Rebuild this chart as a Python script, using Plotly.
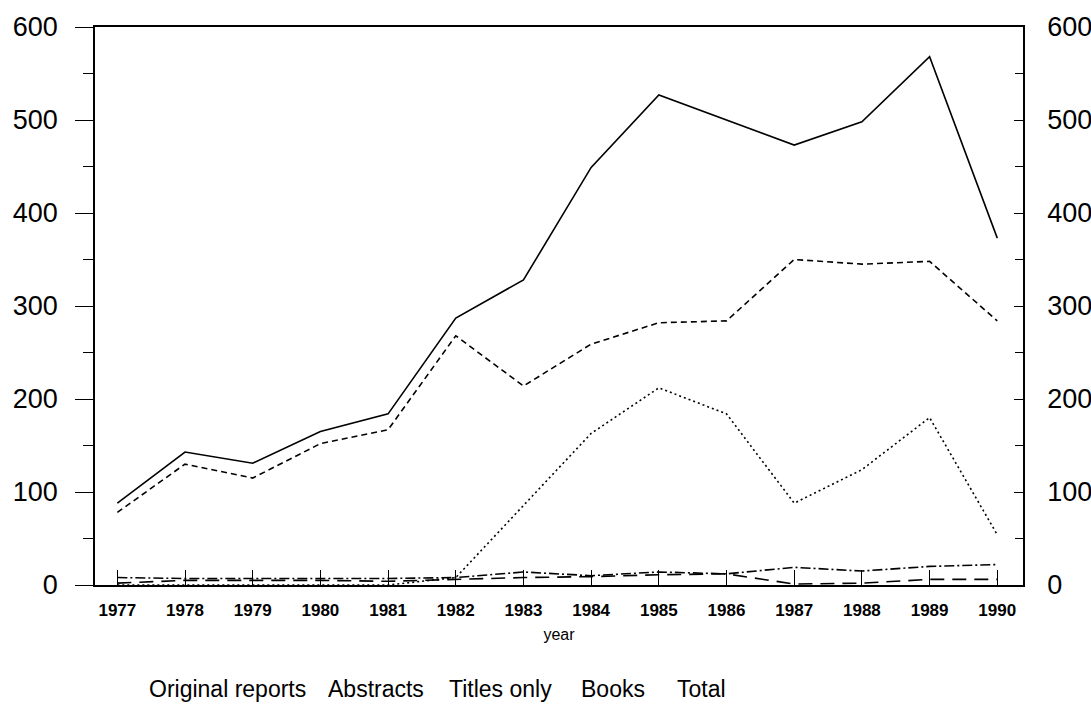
import plotly.graph_objects as go

# Yearly counts by publication type
years = [1977, 1978, 1979, 1980, 1981, 1982, 1983, 1984, 1985, 1986, 1987, 1988, 1989, 1990]
original_reports = [78, 130, 115, 152, 167, 268, 214, 259, 282, 284, 350, 345, 348, 284]
abstracts = [8, 7, 7, 7, 7, 8, 14, 10, 14, 12, 19, 15, 20, 22]
titles_only = [0, 0, 0, 0, 0, 8, 86, 163, 212, 184, 88, 124, 180, 54]
books = [2, 5, 5, 5, 4, 6, 8, 9, 11, 12, 1, 2, 6, 6]
total = [88, 143, 131, 165, 184, 287, 328, 449, 527, 500, 473, 498, 568, 373]

series_names = ["Original reports", "Abstracts", "Titles only", "Books", "Total"]
series_values = [original_reports, abstracts, titles_only, books, total]
series_dash = ["6px,4px", "10px,3px,2px,3px", "2px,3px", "14px,8px", "solid"]

y_ticks = [0, 100, 200, 300, 400, 500, 600]

fig = go.Figure()
for name, vals, dash in zip(series_names, series_values, series_dash):
    fig.add_trace(go.Scatter(
        x=years, y=vals, name=name, mode="lines",
        line=dict(color="black", width=1.6, dash=dash),
        showlegend=False,
    ))

# invisible trace to carry the right-hand axis
fig.add_trace(go.Scatter(x=[years[0]], y=[0], yaxis="y2", mode="markers",
                         marker=dict(opacity=0), showlegend=False, hoverinfo="skip"))

tick_font = dict(family="Liberation Sans, Arial, sans-serif", size=27, color="black")

fig.update_layout(
    width=1091, height=713,
    margin=dict(l=95, r=68, t=27, b=128),
    paper_bgcolor="white", plot_bgcolor="white",
    xaxis=dict(
        range=[1976.67, 1990.38], tickvals=years, ticktext=[str(y) for y in years],
        ticks="inside", ticklen=15, tickwidth=1.2, tickcolor="black",
        showline=True, linecolor="black", linewidth=1.5, mirror=True,
        showgrid=False, zeroline=False, ticklabelstandoff=9, automargin=False,
        tickfont=dict(family="Liberation Sans, Arial, sans-serif", size=17, color="black", weight="bold"),
        title=dict(text="year", standoff=10,
                   font=dict(family="Liberation Sans, Arial, sans-serif", size=16, color="black")),
    ),
    yaxis=dict(
        range=[0, 600], tickvals=y_ticks,
        ticks="outside", ticklen=18, tickwidth=1.2, tickcolor="black",
        minor=dict(dtick=50, ticks="outside", ticklen=10, tickwidth=1.2, tickcolor="black"),
        showline=True, linecolor="black", linewidth=1.5, ticklabelstandoff=12,
        showgrid=False, zeroline=False, tickfont=tick_font, automargin=False,
    ),
    yaxis2=dict(
        range=[0, 600], tickvals=y_ticks, overlaying="y", side="right",
        ticks="inside", ticklen=9, tickwidth=1.2, tickcolor="black",
        minor=dict(dtick=50, ticks="inside", ticklen=8, tickwidth=1.2, tickcolor="black"),
        showline=True, linecolor="black", linewidth=1.5, ticklabelstandoff=17,
        showgrid=False, zeroline=False, tickfont=tick_font, automargin=False,
    ),
)

# legend labels along the bottom
legend_x = [227, 376, 500, 613, 701]
for name, xp in zip(series_names, legend_x):
    fig.add_annotation(
        text=name, x=xp, y=713 - 689, xref="paper", yref="paper",
        showarrow=False, xanchor="center", yanchor="middle",
        font=dict(family="Liberation Sans Narrow, Arial Narrow, Liberation Sans, Arial", size=23, color="black"),
    )

# convert pixel positions of the labels to paper coordinates
plot_w = 1091 - 95 - 68
plot_h = 713 - 27 - 128
for ann in fig.layout.annotations:
    ann.x = (ann.x - 95) / plot_w
    ann.y = (ann.y - 128) / plot_h

fig.write_html("out.html")
